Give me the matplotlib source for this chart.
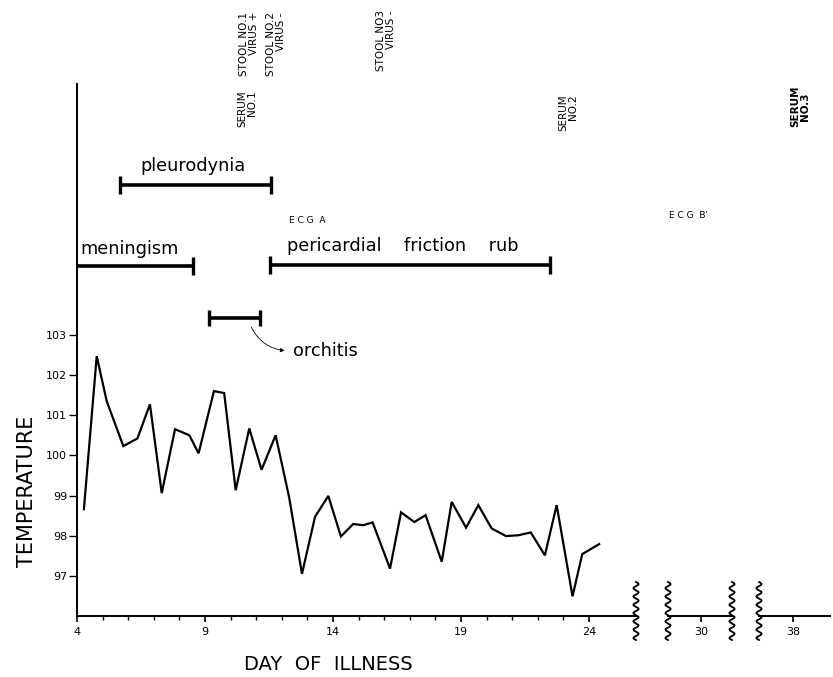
import numpy as np
import matplotlib
matplotlib.use("Agg")
import matplotlib.pyplot as plt
from matplotlib.lines import Line2D
from matplotlib.ticker import FixedLocator

# temperature curve (day of illness, deg F)
day = [4.27, 4.77, 5.16, 5.81, 6.36, 6.85, 7.31, 7.83, 8.39, 8.75,
       9.35, 9.75, 10.2, 10.73, 11.21, 11.76, 12.29, 12.79, 13.30, 13.82,
       14.31, 14.79, 15.18, 15.55, 16.23, 16.66, 17.18, 17.62, 18.25, 18.64,
       19.2, 19.68, 20.2, 20.76, 21.24, 21.73, 22.28, 22.74, 23.36, 23.74, 24.4]
temp = [98.66, 102.47, 101.35, 100.23, 100.42, 101.27, 99.06, 100.65, 100.50, 100.05,
        101.60, 101.55, 99.13, 100.67, 99.64, 100.50, 98.95, 97.05, 98.47, 98.99,
        97.98, 98.29, 98.26, 98.33, 97.18, 98.58, 98.34, 98.51, 97.35, 98.84,
        98.20, 98.76, 98.18, 97.99, 98.01, 98.08, 97.51, 98.76, 96.49, 97.54, 97.79]

# clinical findings (start / end day)
symptom_names = ["meningism", "pleurodynia", "pericardial    friction    rub", "orchitis"]
symptom_start = [4.0, 5.68, 11.54, 9.17]
symptom_end = [8.53, 11.58, 22.48, 11.15]

# specimens (day taken)
stool_labels = ["STOOL NO.1\nVIRUS +", "STOOL NO.2\nVIRUS -", "STOOL NO3\nVIRUS -"]
stool_days = [10.72, 11.77, 16.07]
serum_labels = ["SERUM\nNO.1", "SERUM\nNO.2"]
serum_days = [10.64, 23.18]
serum3_label = "SERUM\nNO.3"
serum3_day = 38.27
ecg_labels = ["E C G  A", "E C G  B'"]
ecg_days = [13.0, 29.5]

y_ticks = [97, 98, 99, 100, 101, 102, 103]
x_major = [4, 9, 14, 19, 24]
x_minor = [5, 6, 7, 8, 10, 11, 12, 13, 15, 16, 17, 18, 20, 21, 22, 23]

W, H = 833, 677
fig = plt.figure(figsize=(W / 100, H / 100), dpi=100)
plt.rcParams['font.family'] = ['DejaVu Sans']

ylim = (96, 109.24)
ax1 = fig.add_axes([77 / W, 61 / H, (636 - 77) / W, 531.8 / H])
ax2 = fig.add_axes([668 / W, 61 / H, 64 / W, 531.8 / H])
ax3 = fig.add_axes([759 / W, 61 / H, 71 / W, 531.8 / H])

ax1.set_xlim(4, 25.84)
ax2.set_xlim(28.71, 31.21)
ax3.set_xlim(36.67, 39.45)

for ax in (ax1, ax2, ax3):
    ax.set_ylim(*ylim)
    ax.patch.set_alpha(0)
    for s in ("top", "right"):
        ax.spines[s].set_visible(False)
    ax.spines["bottom"].set_linewidth(1.4)
    ax.tick_params(axis="x", direction="out", length=4, width=1.2, labelsize=8, pad=4)
for ax in (ax2, ax3):
    ax.spines["left"].set_visible(False)
    ax.set_yticks([])

ax1.spines["left"].set_linewidth(1.4)
ax1.set_yticks(y_ticks)
ax1.set_yticklabels([str(t) for t in y_ticks])
ax1.tick_params(axis="y", direction="out", length=6, width=1.0, labelsize=8, pad=1)
ax1.set_xticks(x_major)
ax1.xaxis.set_minor_locator(FixedLocator(x_minor))
ax1.tick_params(axis="x", which="minor", direction="out", length=3, width=1.0)
ax2.set_xticks([30])
ax3.set_xticks([38])

# temperature line
ax1.plot(day, temp, color="black", lw=1.6, solid_joinstyle="miter")

# symptom bars
bar_levels = [104.72, 106.73, 104.74, 103.41]
text_levels = [105.13, 107.2, 105.2]
text_shift = [-0.2, -0.1, -0.3]
cap_size = [13, 13, 13, 12]
for i, name in enumerate(symptom_names):
    s, e = symptom_start[i], symptom_end[i]
    y = bar_levels[i]
    ax1.plot([s, e], [y, y], color="black", lw=2.6, solid_capstyle="butt")
    ends = [e] if s <= ax1.get_xlim()[0] else [s, e]
    ax1.plot(ends, [y] * len(ends), ls="none", marker="|", color="black",
             markersize=cap_size[i], markeredgewidth=2.4, clip_on=False)
    if i < 3:
        ax1.text((s + e) / 2 + text_shift[i], text_levels[i], name,
                 ha="center", va="center", fontsize=12.8)
ax1.annotate("", xy=(12.22, 102.6), xytext=(10.76, 103.26),
             arrowprops=dict(arrowstyle="-|>", connectionstyle="arc3,rad=0.3",
                             lw=0.6, color="black", mutation_scale=6))
ax1.text(12.42, 102.6, symptom_names[3], ha="left", va="center", fontsize=12.8)

# specimen labels
for lab, d, y in zip(stool_labels, stool_days, [109.44, 109.44, 109.56]):
    ax1.text(d, y, lab, rotation=90, ha="center", va="bottom", fontsize=7.5,
             linespacing=0.95, multialignment="right", clip_on=False)
for lab, d, y in zip(serum_labels, serum_days, [108.17, 108.07]):
    ax1.text(d, y, lab, rotation=90, ha="center", va="bottom", fontsize=7.5,
             linespacing=0.95, multialignment="right", clip_on=False)
ax3.text(serum3_day, 108.17, serum3_label, rotation=90, ha="center", va="bottom",
         fontsize=7.5, fontweight="bold", linespacing=0.95, clip_on=False)

ax1.text(ecg_days[0], 105.85, ecg_labels[0], ha="center", va="center", fontsize=6.5)
ax2.text(ecg_days[1], 105.98, ecg_labels[1], ha="center", va="center", fontsize=6.5)


# wavy break marks on the day axis
def wavy_break(x_px):
    yy = np.linspace(582, 640, 300)
    xx = x_px + 2.6 * np.sin((yy - 582) / 58 * 2 * np.pi * 7)
    fig.add_artist(Line2D(xx / W, 1 - yy / H, transform=fig.transFigure,
                          color="black", lw=1.3))


for xp in (636, 668, 732, 759):
    wavy_break(xp)

fig.text(27 / W, 1 - 491 / H, "TEMPERATURE", rotation=90, ha="center", va="center", fontsize=15)
fig.text(328 / W, 1 - 665 / H, "DAY  OF  ILLNESS", ha="center", va="center", fontsize=14)

fig.savefig("out.png", dpi=100)
